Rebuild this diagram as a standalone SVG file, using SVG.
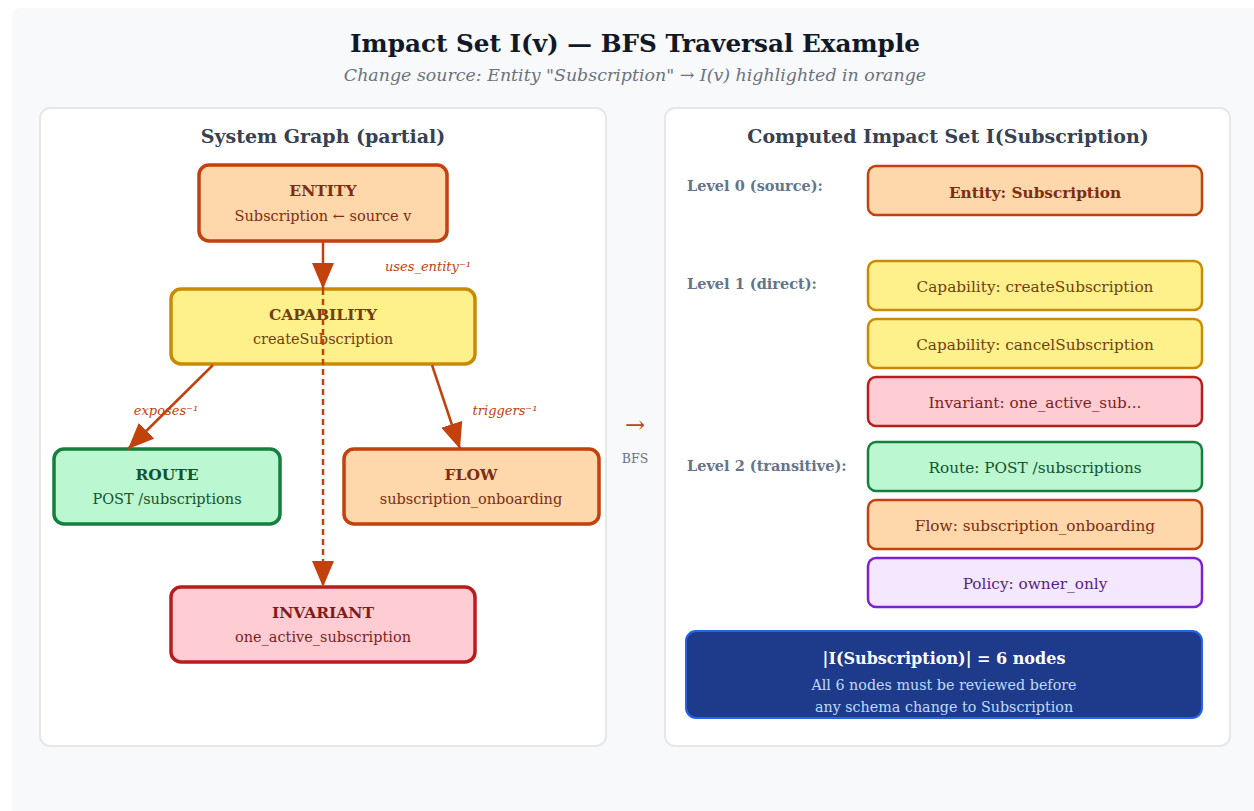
<svg xmlns="http://www.w3.org/2000/svg" width="1254" height="811" viewBox="0 0 1254 811">
<defs>
<marker id="ah2" markerUnits="userSpaceOnUse" markerWidth="26" markerHeight="22" viewBox="0 0 26 22" refX="26" refY="11" orient="auto">
<path d="M0,0 L26,11 L0,22 Z" fill="#c2410c"/>
</marker>
</defs>
<style>
text{font-family:"DejaVu Serif","Liberation Serif",serif;}
.panel{fill:#ffffff;stroke:#e5e7eb;stroke-width:2;}
.ptitle{font-size:19px;font-weight:bold;fill:#374151;text-anchor:middle;}
.nt{font-size:15.5px;font-weight:bold;text-anchor:middle;}
.ns{font-size:14.5px;text-anchor:middle;}
.rs{font-size:15.3px;text-anchor:middle;}
.orange rect{fill:#fed7aa;stroke:#c2410c;}
.orange text{fill:#7c2d12;}
.yellow rect{fill:#fef08a;stroke:#ca8a04;}
.yellow text{fill:#713f12;}
.green rect{fill:#bbf7d0;stroke:#15803d;}
.green text{fill:#14532d;}
.red rect{fill:#fecdd3;stroke:#b91c1c;}
.red text{fill:#7f1d1d;}
.purple rect{fill:#f3e8ff;stroke:#7e22ce;}
.purple text{fill:#581c87;}
.big rect{stroke-width:3.5;}
.sm rect{stroke-width:2.5;}
.lvl{font-size:14.5px;font-weight:bold;fill:#64748b;}
.el{font-size:13px;font-style:italic;fill:#c2410c;text-anchor:middle;}
.edge{stroke:#c2410c;stroke-width:2.5;fill:none;}
</style>
<rect x="0" y="0" width="1254" height="811" fill="#ffffff"/>
<rect x="12" y="8" width="1250" height="815" rx="8" fill="#f8f9fb"/>
<text x="635" y="52" font-size="24.7" font-weight="bold" fill="#111827" text-anchor="middle">Impact Set I(v) — BFS Traversal Example</text>
<text x="635" y="81" font-size="17.4" font-style="italic" fill="#6b7280" text-anchor="middle">Change source: Entity "Subscription" → I(v) highlighted in orange</text>

<rect class="panel" x="40" y="108" width="566" height="638" rx="10"/>
<rect class="panel" x="665" y="108" width="565" height="638" rx="10"/>
<text class="ptitle" x="323" y="143">System Graph (partial)</text>
<text class="ptitle" x="948" y="143">Computed Impact Set I(Subscription)</text>

<g id="n-entity" class="orange big">
<rect x="199" y="165" width="248" height="76" rx="10"/>
<text class="nt" x="323" y="196">ENTITY</text>
<text class="ns" x="323" y="221">Subscription ← source v</text>
</g>
<g id="n-capability" class="yellow big">
<rect x="171" y="289" width="304" height="75" rx="10"/>
<text class="nt" x="323" y="320">CAPABILITY</text>
<text class="ns" x="323" y="344">createSubscription</text>
</g>
<g id="n-route" class="green big">
<rect x="54" y="449" width="226" height="75" rx="10"/>
<text class="nt" x="167" y="480">ROUTE</text>
<text class="ns" x="167" y="504">POST /subscriptions</text>
</g>
<g id="n-flow" class="orange big">
<rect x="344" y="449" width="255" height="75" rx="10"/>
<text class="nt" x="471" y="480">FLOW</text>
<text class="ns" x="471" y="504">subscription_onboarding</text>
</g>
<g id="n-invariant" class="red big">
<rect x="171" y="587" width="304" height="75" rx="10"/>
<text class="nt" x="323" y="618">INVARIANT</text>
<text class="ns" x="323" y="642">one_active_subscription</text>
</g>

<g id="connectors">
<line class="edge" x1="323" y1="241" x2="323" y2="289" marker-end="url(#ah2)"/>
<line class="edge" x1="323" y1="289" x2="323" y2="587" stroke-dasharray="6,4" marker-end="url(#ah2)"/>
<line class="edge" x1="213" y1="365" x2="128" y2="449" marker-end="url(#ah2)"/>
<line class="edge" x1="432" y1="365" x2="460" y2="449" marker-end="url(#ah2)"/>
<text class="el" x="428" y="271">uses_entity⁻¹</text>
<text class="el" x="166" y="415">exposes⁻¹</text>
<text class="el" x="505" y="415">triggers⁻¹</text>
</g>

<g id="bfs">
<text x="635" y="433" font-size="24" fill="#c2410c" text-anchor="middle">→</text>
<text x="635" y="463" font-size="12.5" fill="#64748b" text-anchor="middle">BFS</text>
</g>

<text class="lvl" x="687" y="191">Level 0 (source):</text>
<text class="lvl" x="687" y="289">Level 1 (direct):</text>
<text class="lvl" x="687" y="471">Level 2 (transitive):</text>

<g id="r-entity" class="orange sm">
<rect x="868" y="166" width="334" height="49" rx="8"/>
<text class="rs" x="1035" y="198" font-weight="bold" font-size="16">Entity: Subscription</text>
</g>
<g id="r-cap1" class="yellow sm">
<rect x="868" y="261" width="334" height="49" rx="8"/>
<text class="rs" x="1035" y="292">Capability: createSubscription</text>
</g>
<g id="r-cap2" class="yellow sm">
<rect x="868" y="319" width="334" height="49" rx="8"/>
<text class="rs" x="1035" y="350">Capability: cancelSubscription</text>
</g>
<g id="r-inv" class="red sm">
<rect x="868" y="377" width="334" height="49" rx="8"/>
<text class="rs" x="1035" y="408">Invariant: one_active_sub...</text>
</g>
<g id="r-route" class="green sm">
<rect x="868" y="442" width="334" height="49" rx="8"/>
<text class="rs" x="1035" y="473">Route: POST /subscriptions</text>
</g>
<g id="r-flow" class="orange sm">
<rect x="868" y="500" width="334" height="49" rx="8"/>
<text class="rs" x="1035" y="531">Flow: subscription_onboarding</text>
</g>
<g id="r-policy" class="purple sm">
<rect x="868" y="558" width="334" height="49" rx="8"/>
<text class="rs" x="1035" y="589">Policy: owner_only</text>
</g>

<g id="summary">
<rect x="686" y="631" width="516" height="87" rx="10" fill="#1e3a8a" stroke="#2563eb" stroke-width="2"/>
<text x="944" y="664" font-size="16" font-weight="bold" fill="#ffffff" text-anchor="middle">|I(Subscription)| = 6 nodes</text>
<text x="944" y="690" font-size="14.3" fill="#bfdbfe" text-anchor="middle">All 6 nodes must be reviewed before</text>
<text x="944" y="712" font-size="14.3" fill="#bfdbfe" text-anchor="middle">any schema change to Subscription</text>
</g>
</svg>
